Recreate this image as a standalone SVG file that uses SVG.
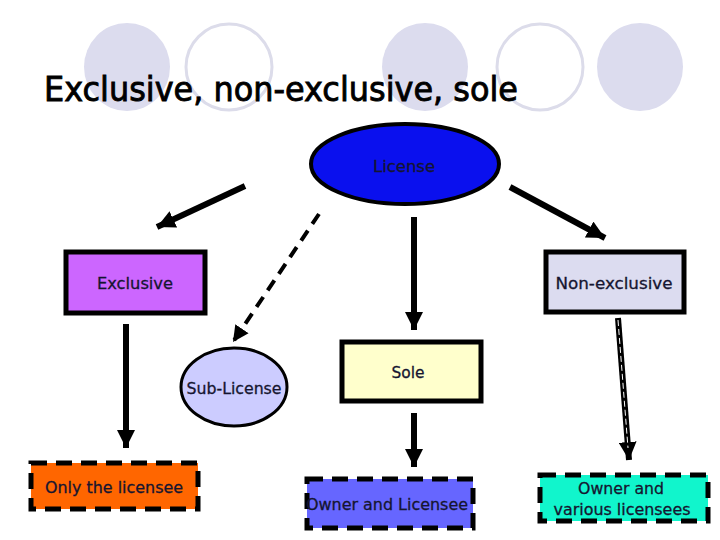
<svg xmlns="http://www.w3.org/2000/svg" width="720" height="540" viewBox="0 0 720 540">
<defs>
<style>
.deco-f{fill:#dcdcee;stroke:none}
.deco-o{fill:#ffffff;stroke:#dcdcea;stroke-width:3}
.t{font-family:"DejaVu Sans","Noto Sans",sans-serif;fill:#151530;text-anchor:middle;stroke:#151530;stroke-width:0.3}
.box{stroke:#000;stroke-width:5}
.dbox{stroke:#000;stroke-width:5;stroke-dasharray:16 9}
.ln{stroke:#000;stroke-width:6;fill:none}
</style>
<marker id="ah" viewBox="0 0 10 10" refX="10" refY="5" markerWidth="3" markerHeight="3" orient="auto" markerUnits="strokeWidth">
<path d="M0,0 L10,5 L0,10 z" fill="#000"/>
</marker>
<marker id="ahs" viewBox="0 0 10 10" refX="10" refY="5" markerWidth="4" markerHeight="4.5" orient="auto" markerUnits="strokeWidth">
<path d="M0,0 L10,5 L0,10 z" fill="#000"/>
</marker>
</defs>
<rect width="720" height="540" fill="#fff"/>
<g id="decoration">
<ellipse class="deco-f" cx="127" cy="67" rx="43" ry="44"/>
<ellipse class="deco-o" cx="229" cy="67" rx="43" ry="43"/>
<ellipse class="deco-f" cx="425" cy="67" rx="43" ry="44"/>
<ellipse class="deco-o" cx="540" cy="67" rx="43" ry="43"/>
<ellipse class="deco-f" cx="640" cy="67" rx="43" ry="44"/>
</g>
<text id="title" x="44" y="101" font-family="'DejaVu Sans','Noto Sans',sans-serif" font-size="34" fill="#000" stroke="#000" stroke-width="0.9" textLength="474" lengthAdjust="spacingAndGlyphs">Exclusive, non-exclusive, sole</text>
<g id="connectors">
<line class="ln" x1="245" y1="186" x2="157" y2="227" marker-end="url(#ah)" stroke-width="7"/>
<line class="ln" x1="510" y1="187" x2="605" y2="238" marker-end="url(#ah)" stroke-width="7"/>
<line class="ln" x1="414" y1="217" x2="414" y2="330" marker-end="url(#ah)"/>
<line x1="319" y1="214" x2="233" y2="342" stroke="#000" stroke-width="4" stroke-dasharray="12 8" marker-end="url(#ahs)"/>
<line class="ln" x1="126" y1="324" x2="126" y2="448" marker-end="url(#ah)" stroke-width="5"/>
<line class="ln" x1="414" y1="413" x2="414" y2="467" marker-end="url(#ah)"/>
<line class="ln" x1="618" y1="318" x2="629" y2="460" marker-end="url(#ah)"/>
<line x1="618" y1="320" x2="628" y2="448" stroke="#fff" stroke-width="1" stroke-dasharray="6 3"/>
</g>
<g id="license">
<ellipse cx="405" cy="164" rx="94" ry="40" fill="#0a10ee" stroke="#000" stroke-width="4"/>
<text class="t" x="404" y="172" font-size="16" fill="#101060" stroke="#101060" textLength="62" lengthAdjust="spacingAndGlyphs">License</text>
</g>
<g id="exclusive">
<rect class="box" x="66" y="252" width="139" height="61" fill="#cc66ff"/>
<text class="t" x="135" y="289" font-size="16" textLength="76" lengthAdjust="spacingAndGlyphs">Exclusive</text>
</g>
<g id="non-exclusive">
<rect class="box" x="546" y="252" width="138" height="60" fill="#dcdcf0"/>
<text class="t" x="614" y="289" font-size="16" textLength="117" lengthAdjust="spacingAndGlyphs">Non-exclusive</text>
</g>
<g id="sub-license">
<ellipse cx="234" cy="387" rx="53" ry="39" fill="#ccccff" stroke="#000" stroke-width="3"/>
<text class="t" x="234" y="394" font-size="16" textLength="95" lengthAdjust="spacingAndGlyphs">Sub-License</text>
</g>
<g id="sole">
<rect class="box" x="342" y="342" width="139" height="59" fill="#ffffcc"/>
<text class="t" x="408" y="378" font-size="16" textLength="33" lengthAdjust="spacingAndGlyphs">Sole</text>
</g>
<g id="only-licensee">
<rect class="dbox" x="31" y="463" width="167" height="46" fill="#ff6600"/>
<text class="t" x="114" y="493" font-size="16" textLength="138" lengthAdjust="spacingAndGlyphs">Only the licensee</text>
</g>
<g id="owner-licensee">
<rect class="dbox" x="307" y="479" width="166" height="49" fill="#6666ff"/>
<text class="t" x="387" y="510" font-size="16" textLength="162" lengthAdjust="spacingAndGlyphs">Owner and Licensee</text>
</g>
<g id="owner-various">
<rect class="dbox" x="540" y="475" width="168" height="46" fill="#11f5cc"/>
<text class="t" x="621" y="494" font-size="16" textLength="86" lengthAdjust="spacingAndGlyphs">Owner and</text>
<text class="t" x="622" y="515" font-size="16" textLength="137" lengthAdjust="spacingAndGlyphs">various licensees</text>
</g>
</svg>
